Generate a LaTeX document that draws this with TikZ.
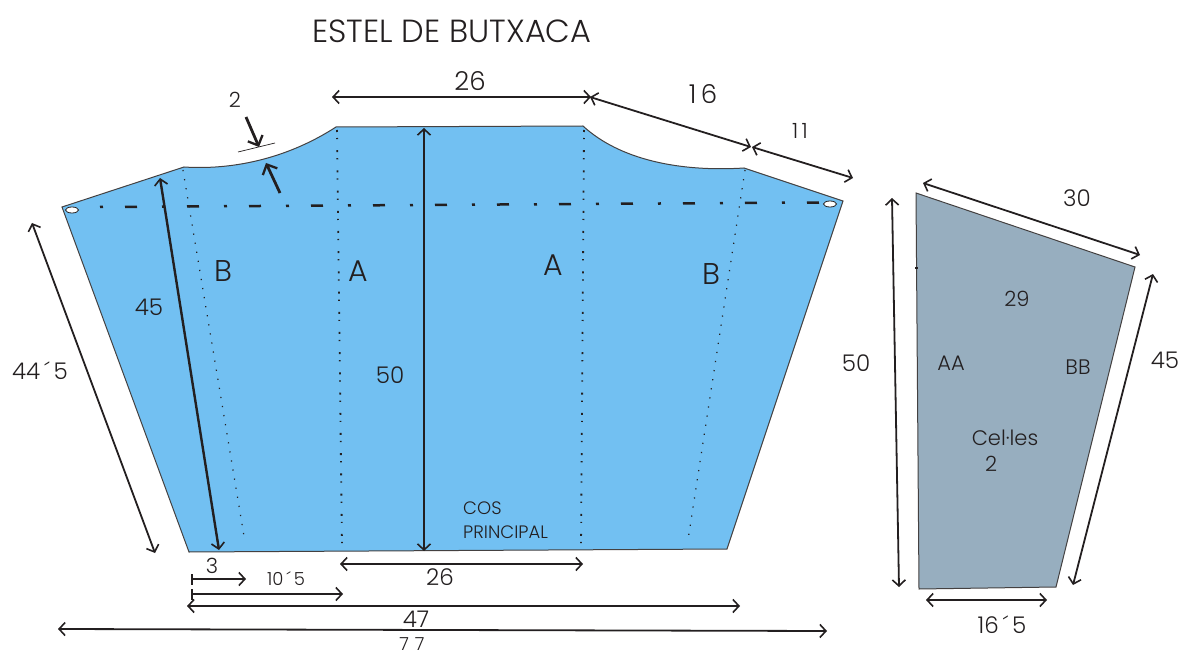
\documentclass[tikz,border=0pt]{standalone}
\usepackage{fontspec}
\setmainfont{Poppins Light}
\usetikzlibrary{arrows.meta,shapes.geometric}
\definecolor{ink}{HTML}{231F20}
\definecolor{kiteblue}{HTML}{72C0F2}
\definecolor{cellgrey}{HTML}{97AEBF}
\tikzset{
  x=1pt,y=-1pt,
  tip/.tip={Straight Barb[length=6pt,width=13pt,line width=1.6pt]},
  boldtip/.tip={Straight Barb[length=8pt,width=16pt,line width=2.3pt]},
  dim/.style={draw=ink,line width=1.8pt,{tip}-{tip}},
  dimbold/.style={draw=ink,line width=2.4pt,{tip}-{tip}},
  oneway/.style={draw=ink,line width=1.8pt,-{tip}},
  boldway/.style={draw=ink,line width=2.8pt,-{boldtip}},
  lab/.style={inner sep=0pt,text=ink,font=\fontsize{23}{25}\selectfont},
  labb/.style={inner sep=0pt,text=ink,font=\fontsize{26}{28}\selectfont},
  labl/.style={inner sep=0pt,text=ink,font=\fontsize{30}{32}\selectfont},
  labm/.style={inner sep=0pt,text=ink,font=\fontsize{21}{23}\selectfont},
  labs/.style={inner sep=0pt,text=ink,font=\fontsize{18}{20}\selectfont},
  fold/.style={draw=ink,line width=1.8pt,dash pattern=on 2pt off 6pt on 1.2pt off 11pt},
  foldb/.style={draw=ink,line width=1.2pt,dash pattern=on 1.2pt off 8pt},
  hem/.style={draw=ink,line width=2.5pt,dash pattern=on 3pt off 22pt on 12pt off 25pt},
  hole/.style={ellipse,draw=ink,fill=white,line width=.8pt,minimum width=13pt,minimum height=6pt,inner sep=0pt},
  edge/.style={draw=ink!85,line width=1pt},
}
\begin{document}
\begin{tikzpicture}
\useasboundingbox (0,0) rectangle (1178,655);
% main body
\path[fill=kiteblue,edge] (62,207) -- (184,167)
  .. controls (230,170) and (285,160) .. (336,127)
  -- (583,126)
  .. controls (620,160) and (680,172) .. (744,168)
  -- (843,201) -- (727,549) -- (189,552) -- cycle;
% cell
\path[fill=cellgrey,edge] (916,193) -- (1135,267) -- (1056,587) -- (919,589) -- cycle;
\fill[ink] (915,267) rectangle (918,269);
% fold lines
\coordinate (fa1) at (337,130); \coordinate (fa2) at (342,548);
\coordinate (fc1) at (584,130); \coordinate (fc2) at (581,548);
\coordinate (fb1) at (183,170); \coordinate (fb2) at (245,542);
\coordinate (fd1) at (745,170); \coordinate (fd2) at (688,540);
\draw[fold] (fa1) -- (fa2);
\draw[fold] (fc1) -- (fc2);
\draw[foldb] (fb1) -- (fb2);
\draw[foldb] (fd1) -- (fd2);
% hem
\coordinate (h1) at (100,207); \coordinate (h2) at (820,202.5);
\draw[hem] (h1) -- (h2);
\node[hole] (holeL) at (72,210) {};
\node[hole] (holeR) at (830,204) {};
% dimension end points
\coordinate (t1) at (332,97);  \coordinate (t2) at (591,97);
\coordinate (s1) at (590,97);  \coordinate (s2) at (751,147);
\coordinate (e1) at (752,147); \coordinate (e2) at (853,178);
\coordinate (v1) at (424,128); \coordinate (v2) at (424,551);
\coordinate (l1) at (160,178); \coordinate (l2) at (219,550);
\coordinate (o1) at (32,223);  \coordinate (o2) at (155,553);
\coordinate (a1) at (246,117); \coordinate (a2) at (259,147);
\coordinate (m1) at (238,152); \coordinate (m2) at (275,143);
\coordinate (b1) at (280,193); \coordinate (b2) at (266,163);
\coordinate (u1) at (340,564); \coordinate (u2) at (583,564);
\coordinate (w1) at (192,579); \coordinate (w2) at (246,579);
\coordinate (x1) at (192,594); \coordinate (x2) at (343,594);
\coordinate (y1) at (187,606); \coordinate (y2) at (740,606);
\coordinate (z1) at (58,629);  \coordinate (z2) at (827,631);
\coordinate (c1) at (923,183); \coordinate (c2) at (1140,255);
\coordinate (d1) at (1153,274); \coordinate (d2) at (1073,585);
\coordinate (f1) at (892,198); \coordinate (f2) at (899,587);
\coordinate (g1) at (926,600); \coordinate (g2) at (1047,600);
\coordinate (k1) at (192,574); \coordinate (k2) at (192,585);
\coordinate (n1) at (192,589); \coordinate (n2) at (192,600);
\draw[dim] (t1) -- (t2);
\draw[dim] (s1) -- (s2);
\draw[dim] (e1) -- (e2);
\draw[dim] (v1) -- (v2);
\draw[dimbold] (l1) -- (l2);
\draw[dim] (o1) -- (o2);
\draw[boldway] (a1) -- (a2);
\draw[ink,line width=.7pt] (m1) -- (m2);
\draw[boldway] (b1) -- (b2);
\draw[dim] (u1) -- (u2);
\draw[oneway] (w1) -- (w2);
\draw[oneway] (x1) -- (x2);
\draw[ink,line width=1.5pt] (k1) -- (k2);
\draw[ink,line width=1.5pt] (n1) -- (n2);
\draw[dim] (y1) -- (y2);
\draw[dim] (z1) -- (z2);
\draw[dim] (c1) -- (c2);
\draw[dim] (d1) -- (d2);
\draw[dim] (f1) -- (f2);
\draw[dim] (g1) -- (g2);
% labels
\node[inner sep=0pt,text=ink,font=\fontsize{32}{34}\selectfont] (title) at (452,31) {ESTEL DE BUTXACA};
\node[labb] (n26a) at (470,81) {26};
\node[labb] (n16) at (703,94) {1\,6};
\node[labm] (n11) at (800,131) {1\,1};
\node[labm] (n2a) at (235,100) {2};
\node[lab] (n45a) at (149,307) {45};
\node[lab] (n44) at (40,371) {44\,´\,5};
\node[lab] (n50a) at (390,375) {50};
\node[labl] (nB1) at (223,271) {B};
\node[labl] (nA1) at (358,271) {A};
\node[labl] (nA2) at (553,265) {A};
\node[labl] (nB2) at (711,274) {B};
\node[labs,anchor=west] (cos) at (463,508) {COS};
\node[labs,anchor=west] (prin) at (463,532) {PRINCIPAL};
\node[labm] (n3) at (212,566) {3};
\node[labs] (n10) at (286,579) {10\,´\,5};
\node[lab] (n26b) at (440,577) {26};
\node[lab] (n47) at (416,619) {47};
\node[labs] (n77) at (412,644) {7\,\,7};
\node[lab] (n30) at (1077,198) {30};
\node[labm] (n29) at (1017,299) {29};
\node[lab] (n50b) at (856,363) {50};
\node[lab] (n45b) at (1165,360) {45};
\node[labm] (nAA) at (951,363) {AA};
\node[labm] (nBB) at (1078,367) {BB};
\node[labm] (ncel) at (1005,438) {Cel·les};
\node[labm] (n2b) at (991,464) {2};
\node[lab] (n165) at (1002,625) {16\,´\,5};
\end{tikzpicture}
\end{document}
